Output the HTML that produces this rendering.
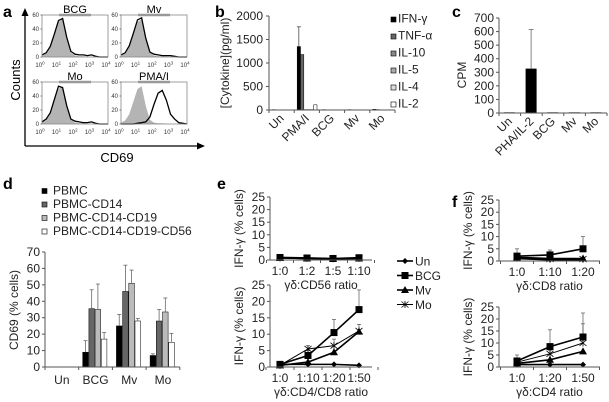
<!DOCTYPE html>
<html><head><meta charset="utf-8"><style>
html,body{margin:0;padding:0;background:#fff}
svg{display:block;font-family:"Liberation Sans",Arial,sans-serif}
</style></head><body>
<svg id="fig" width="609" height="402" viewBox="0 0 609 402">
<g font-weight="bold" font-size="16" fill="#000">
<text x="3" y="17">a</text>
<text x="215" y="17">b</text>
<text x="452" y="17">c</text>
<text x="3" y="189">d</text>
<text x="217" y="189">e</text>
<text x="452" y="207">f</text>
</g>
</svg>
<script>
const NS='http://www.w3.org/2000/svg';
const svg=document.getElementById('fig');
function mk(tag,attrs,parent,name){
  const el=document.createElementNS(NS,tag);
  for(const k in attrs) el.setAttribute(k,attrs[k]);
  
  
  (parent||svg).appendChild(el);
  return el;
}
function txt(x,y,s,size,name,extra){
  const t=mk('text',Object.assign({x:x,y:y,'font-size':size,fill:'#000'},extra||{}),svg,name);
  t.textContent=s;return t;
}

/* ---------- Panel a: histograms ---------- */
const histBins=[0,0.25,0.5,0.75,1,1.25,1.5,1.75,2,2.25,2.5,2.75,3,3.25,3.5,3.75,4];
const histIsotype=[2,5,14,32,50,54,26,6,2,1,1,0.5,0,0,0,0,0];
const histBCG=[3,6,15,33,52,55,28,8,4,3,3,2,3,1,0,0,0];
const histMv=[3,6,16,34,53,56,27,7,4,3,2,2,2,1,0,0,0];
const histMo=[3,7,16,35,54,52,26,7,4,3,2,2,3,1,0,0,0];
const histPMA=[0,0,0,0,1,2,3,10,28,44,48,34,14,7,2,1,0];
const histTitles=['BCG','Mv','Mo','PMA/I'];
const histSeries=[histBCG,histMv,histMo,histPMA];
const boxes=[[42,15],[121,15],[42,82],[121,82]];
mk('line',{x1:25,y1:146,x2:25,y2:14,stroke:'#000','stroke-width':1.3},svg,'counts-axis');
mk('polygon',{points:'25,8 21.5,16 28.5,16',fill:'#000'},svg,'counts-arrow');
mk('line',{x1:25,y1:146,x2:199,y2:146,stroke:'#000','stroke-width':1.3},svg,'cd69-axis');
mk('polygon',{points:'205,146 197,142.5 197,149.5',fill:'#000'},svg,'cd69-arrow');
txt(20,80,'Counts',13,'counts-axis-title',{transform:'rotate(-90 20 80)','text-anchor':'middle'});
txt(117,162,'CD69',13,'cd69-axis-title',{'text-anchor':'middle'});
histSeries.forEach((ser,k)=>{
  const [bx,by]=boxes[k];const W=66,H=42;
  const hx=v=>bx+v/4*W, hy=v=>by+H-v/60*H;
  let d='M'+hx(0)+','+hy(0);
  histBins.forEach((b,i)=>{d+=' L'+hx(b)+','+hy(histIsotype[i]);});
  d+=' L'+hx(4)+','+hy(0)+' Z';
  mk('path',{d:d,fill:'#b4b4b4',stroke:'none'},svg,'isotype-histogram');
  let d2='';
  histBins.forEach((b,i)=>{d2+=(i?' L':'M')+hx(b)+','+hy(ser[i]);});
  mk('path',{d:d2,fill:'none',stroke:'#000','stroke-width':1.3},svg,'cd69-histogram-'+histTitles[k].toLowerCase().replace('/',''));
  mk('rect',{x:bx,y:by,width:W,height:H,fill:'none',stroke:'#888','stroke-width':0.8},svg,'histogram-frame');
  [0,20,40,60].forEach(v=>{
    txt(bx-3,hy(v)+2,String(v),6,'hist-y-tick',{'text-anchor':'end',fill:'#333'});
    mk('line',{x1:bx-1.5,y1:hy(v),x2:bx,y2:hy(v),stroke:'#333','stroke-width':0.6},svg,'hist-y-tickmark');
  });
  [0,1,2,3,4].forEach(e=>{
    const t=txt(hx(e)-2,by+H+10,'10',6,'hist-x-tick',{'text-anchor':'middle',fill:'#333'});
    const s=document.createElementNS(NS,'tspan');s.setAttribute('dy','-2.5');s.setAttribute('font-size','4.5');s.textContent=String(e);t.appendChild(s);
  });
  const tt=txt(bx+W/2,by-2,histTitles[k],11,'histogram-title',{'text-anchor':'middle'});
  mk('line',{x1:bx+W/2-16,y1:by,x2:bx+W/2+16,y2:by,stroke:'#999','stroke-width':2.5},svg,'histogram-title-bar');
});

/* ---------- Panel b: cytokines ---------- */
const cytCats=['Un','PMA/I','BCG','Mv','Mo'];
const cytNames=['IFN-γ','TNF-α','IL-10','IL-5','IL-4','IL-2'];
const cytIFN=[8,1350,8,8,15];
const cytTNF=[5,1180,5,5,8];
const cytIL10=[5,8,5,5,5];
const cytIL5=[5,8,5,5,5];
const cytIL4=[5,8,5,5,5];
const cytIL2=[5,110,5,5,5];
const cytErrIFN=[0,1770,0,0,0];
const cytTicks=[0,500,1000,1500,2000];
const cytColors=['#000','#666','#888','#aaa','#ddd','#fff'];
(function(){
  const x0=269,x1=395,y0=110,y1=16,max=2000,gw=(x1-x0)/cytCats.length;
  const yS=v=>y0-v/max*(y0-y1);
  const series=[cytIFN,cytTNF,cytIL10,cytIL5,cytIL4,cytIL2];
  series.forEach((ser,s)=>ser.forEach((v,i)=>{
    const bx=x0+i*gw+3+s*3.3;
    mk('rect',{x:bx,y:yS(v),width:3.3,height:y0-yS(v),fill:cytColors[s],stroke:'#000','stroke-width':0.5},svg,'bar-'+cytNames[s]+'-'+cytCats[i]);
  }));
  cytErrIFN.forEach((e,i)=>{ if(e>0){const cx=x0+i*gw+3+1.65;
    mk('line',{x1:cx,y1:yS(cytIFN[i]),x2:cx,y2:yS(e),stroke:'#333','stroke-width':0.7},svg,'error-bar-ifn');
    mk('line',{x1:cx-2,y1:yS(e),x2:cx+2,y2:yS(e),stroke:'#333','stroke-width':0.7},svg,'error-cap-ifn');}});
  mk('line',{x1:x0,y1:y1,x2:x0,y2:y0,stroke:'#555'},svg,'cytokine-y-axis');
  mk('line',{x1:x0,y1:y0,x2:x1,y2:y0,stroke:'#555'},svg,'cytokine-x-axis');
  cytTicks.forEach(v=>{
    mk('line',{x1:x0-3,y1:yS(v),x2:x0,y2:yS(v),stroke:'#555'},svg,'cytokine-y-tickmark');
    txt(x0-6,yS(v)+4,String(v),12,'cytokine-y-tick',{'text-anchor':'end',fill:'#222'});
  });
  for(let i=0;i<=cytCats.length;i++) mk('line',{x1:x0+i*gw,y1:y0,x2:x0+i*gw,y2:y0+3,stroke:'#555'},svg,'cytokine-x-tickmark');
  cytCats.forEach((c,i)=>{const cx=x0+(i+0.5)*gw+3,cy=y0+9;
    txt(cx,cy,c,12,'cytokine-x-label',{'text-anchor':'end',transform:'rotate(-45 '+cx+' '+cy+')',fill:'#222'});});
  txt(229,63,'[Cytokine](pg/ml)',12,'cytokine-y-title',{'text-anchor':'middle',transform:'rotate(-90 229 63)',fill:'#222'});
  cytNames.forEach((n,s)=>{const ly=21+s*17;
    mk('rect',{x:391,y:ly-4,width:5,height:5,fill:cytColors[s],stroke:'#000','stroke-width':0.6},svg,'legend-swatch-'+n);
    txt(398,ly+1.5,n,12,'legend-entry-'+n,{fill:'#222'});});
})();

/* ---------- Panel c: CPM ---------- */
const cpmCats=['Un','PHA/IL-2','BCG','Mv','Mo'];
const cpmValues=[5,327,5,5,5];
const cpmErrors=[0,615,0,0,0];
const cpmTicks=[0,100,200,300,400,500,600,700];
(function(){
  const x0=499,x1=607,y0=113,y1=18,max=700,gw=(x1-x0)/cpmCats.length;
  const yS=v=>y0-v/max*(y0-y1);
  cpmValues.forEach((v,i)=>{const bx=x0+i*gw+5;
    mk('rect',{x:bx,y:yS(v),width:11,height:y0-yS(v),fill:'#000'},svg,'cpm-bar-'+cpmCats[i]);
    if(cpmErrors[i]>0){const cx=bx+5.5;
      mk('line',{x1:cx,y1:yS(v),x2:cx,y2:yS(cpmErrors[i]),stroke:'#555','stroke-width':0.7},svg,'cpm-error-bar');
      mk('line',{x1:cx-2.5,y1:yS(cpmErrors[i]),x2:cx+2.5,y2:yS(cpmErrors[i]),stroke:'#555','stroke-width':0.7},svg,'cpm-error-cap');}
  });
  mk('line',{x1:x0,y1:y1,x2:x0,y2:y0,stroke:'#555'},svg,'cpm-y-axis');
  mk('line',{x1:x0,y1:y0,x2:x1,y2:y0,stroke:'#555'},svg,'cpm-x-axis');
  cpmTicks.forEach(v=>{
    mk('line',{x1:x0-3,y1:yS(v),x2:x0,y2:yS(v),stroke:'#555'},svg,'cpm-y-tickmark');
    txt(x0-5,yS(v)+4,String(v),12,'cpm-y-tick',{'text-anchor':'end',fill:'#222'});
  });
  for(let i=0;i<=cpmCats.length;i++) mk('line',{x1:x0+i*gw,y1:y0,x2:x0+i*gw,y2:y0+3,stroke:'#555'},svg,'cpm-x-tickmark');
  cpmCats.forEach((c,i)=>{const cx=x0+(i+0.5)*gw+3,cy=y0+9;
    txt(cx,cy,c,12,'cpm-x-label',{'text-anchor':'end',transform:'rotate(-45 '+cx+' '+cy+')',fill:'#222'});});
  txt(466,75,'CPM',12,'cpm-y-title',{'text-anchor':'middle',transform:'rotate(-90 466 75)',fill:'#222'});
})();

/* ---------- Panel d: CD69 ---------- */
const cdCats=['Un','BCG','Mv','Mo'];
const cdSeriesNames=['PBMC','PBMC-CD14','PBMC-CD14-CD19','PBMC-CD14-CD19-CD56'];
const cdPBMC=[0,9,25,7];
const cdCD14=[0,35.5,46,28];
const cdCD19=[0,35,51,33.5];
const cdCD56=[0,17,28,15];
const cdErrPBMC=[0,16,32,8];
const cdErrCD14=[0,47,62,35];
const cdErrCD19=[0,50.5,59,42];
const cdErrCD56=[0,21,29.5,20.5];
const cdTicks=[0,10,20,30,40,50,60,70];
const cdColors=['#000','#666','#bbb','#fff'];
(function(){
  const x0=45,y0=367,y1=252,max=70,gw=33.7,x1=x0+gw*4;
  const yS=v=>y0-v/max*(y0-y1);
  const vals=[cdPBMC,cdCD14,cdCD19,cdCD56],errs=[cdErrPBMC,cdErrCD14,cdErrCD19,cdErrCD56];
  vals.forEach((ser,s)=>ser.forEach((v,i)=>{
    if(v<=0) return;
    const bx=x0+i*gw+4+s*6.2;
    mk('rect',{x:bx,y:yS(v),width:5.6,height:y0-yS(v),fill:cdColors[s],stroke:'#000','stroke-width':0.5},svg,'cd69-bar-'+cdSeriesNames[s]+'-'+cdCats[i]);
    const e=errs[s][i],cx=bx+2.8;
    mk('line',{x1:cx,y1:yS(v),x2:cx,y2:yS(e),stroke:'#555','stroke-width':0.7},svg,'cd69-error-bar');
    mk('line',{x1:cx-2,y1:yS(e),x2:cx+2,y2:yS(e),stroke:'#555','stroke-width':0.7},svg,'cd69-error-cap');
  }));
  mk('line',{x1:x0,y1:y1,x2:x0,y2:y0,stroke:'#555'},svg,'cd69-y-axis');
  mk('line',{x1:x0,y1:y0,x2:x1,y2:y0,stroke:'#555'},svg,'cd69-x-axis');
  cdTicks.forEach(v=>{
    mk('line',{x1:x0-3,y1:yS(v),x2:x0,y2:yS(v),stroke:'#555'},svg,'cd69-y-tickmark');
    txt(x0-5,yS(v)+4,String(v),12,'cd69-y-tick',{'text-anchor':'end',fill:'#222'});
  });
  for(let i=0;i<=cdCats.length;i++) mk('line',{x1:x0+i*gw,y1:y0,x2:x0+i*gw,y2:y0+3,stroke:'#555'},svg,'cd69-x-tickmark');
  cdCats.forEach((c,i)=>txt(x0+(i+0.5)*gw,y0+17,c,12,'cd69-x-label',{'text-anchor':'middle',fill:'#222'}));
  txt(18,310,'CD69 (% cells)',12,'cd69-y-title',{'text-anchor':'middle',transform:'rotate(-90 18 310)',fill:'#222'});
  cdSeriesNames.forEach((n,s)=>{const ly=193+s*13.5;
    mk('rect',{x:42,y:ly-4.5,width:5,height:5,fill:cdColors[s],stroke:'#000','stroke-width':0.6},svg,'legend-swatch-'+n);
    txt(53,ly+1.5,n,12,'legend-entry-'+n,{fill:'#222'});});
})();

/* ---------- Panels e, f: line charts ---------- */
const lineSeriesNames=['Un','BCG','Mv','Mo'];
const eTopCats=['1:0','1:2','1:5','1:10'];
const eTopUn=[0.8,0.6,0.5,0.6];
const eTopBCG=[1,0.8,0.6,0.9];
const eTopMv=[0.8,0.6,0.5,0.6];
const eTopMo=[0.8,0.7,0.5,0.7];
const eBotCats=['1:0','1:10','1:20','1:50'];
const eBotUn=[0.8,0.8,0.8,0.5];
const eBotBCG=[0.8,3.5,10.5,17.5];
const eBotMv=[0.5,1.5,4.5,10.8];
const eBotMo=[0.5,5.5,6.5,11];
const eBotErrBCG=[0,5,14.5,23.5];
const eBotErrMo=[0,6.5,8.5,13];
const fTopCats=['1:0','1:10','1:20'];
const fTopUn=[1,0.5,0.5];
const fTopBCG=[2,2.5,5];
const fTopMv=[1.5,1,1];
const fTopMo=[1.2,0.8,0.8];
const fTopErrBCG=[5,4.5,10];
const fBotCats=['1:0','1:20','1:50'];
const fBotUn=[1,1,1];
const fBotBCG=[2.5,8.5,12.5];
const fBotMv=[1.5,3,6.5];
const fBotMo=[2,5.5,10];
const fBotErrBCG=[5,15.5,22.5];
const fBotErrMo=[2,7,18];
const lineTicks=[0,5,10,15,20,25];

function marker(type,x,y,name){
  if(type==='Un') mk('polygon',{points:`${x},${y-3} ${x+3},${y} ${x},${y+3} ${x-3},${y}`,fill:'#000'},svg,name);
  else if(type==='BCG') mk('rect',{x:x-3.5,y:y-3.5,width:7,height:7,fill:'#000'},svg,name);
  else if(type==='Mv') mk('polygon',{points:`${x},${y-4} ${x+4},${y+3} ${x-4},${y+3}`,fill:'#000'},svg,name);
  else {mk('path',{d:`M${x-3.5},${y-3} L${x+3.5},${y+3} M${x-3.5},${y+3} L${x+3.5},${y-3} M${x},${y-3.5} L${x},${y+3.5}`,stroke:'#000','stroke-width':0.8,fill:'none'},svg,name);}
}
function lineChart(cfg){
  const {x0,x1,y0,y1,xs,cats,series,errs,xtitle,ytitleX,id}=cfg;
  const yS=v=>y0-v/25*(y0-y1);
  errs.forEach(([si,arr])=>arr.forEach((e,i)=>{
    const v=series[si][i];if(e<=v) return;
    mk('line',{x1:xs[i],y1:yS(v),x2:xs[i],y2:yS(e),stroke:'#555','stroke-width':0.7},svg,id+'-error-bar');
    mk('line',{x1:xs[i]-2,y1:yS(e),x2:xs[i]+2,y2:yS(e),stroke:'#555','stroke-width':0.7},svg,id+'-error-cap');
  }));
  series.forEach((ser,s)=>{
    const pts=ser.map((v,i)=>xs[i]+','+yS(v)).join(' ');
    mk('polyline',{points:pts,fill:'none',stroke:'#000','stroke-width':s===3?1:1.6},svg,id+'-line-'+lineSeriesNames[s]);
    ser.forEach((v,i)=>marker(lineSeriesNames[s],xs[i],yS(v),id+'-point-'+lineSeriesNames[s]));
  });
  mk('line',{x1:x0,y1:y1,x2:x0,y2:y0,stroke:'#555'},svg,id+'-y-axis');
  mk('line',{x1:x0,y1:y0,x2:x1,y2:y0,stroke:'#555'},svg,id+'-x-axis');
  lineTicks.forEach(v=>{
    mk('line',{x1:x0-3,y1:yS(v),x2:x0,y2:yS(v),stroke:'#555'},svg,id+'-y-tickmark');
    txt(x0-5,yS(v)+4,String(v),12,id+'-y-tick',{'text-anchor':'end',fill:'#222'});
  });
  const step=(xs[1]-xs[0]);
  for(let i=0;i<=cats.length;i++) mk('line',{x1:xs[0]-step/2+i*step,y1:y0,x2:xs[0]-step/2+i*step,y2:y0+3,stroke:'#555'},svg,id+'-x-tickmark');
  cats.forEach((c,i)=>txt(xs[i],y0+15,c,12,id+'-x-label',{'text-anchor':'middle',fill:'#222'}));
  txt((x0+x1)/2,y0+29,xtitle,12,id+'-x-title',{'text-anchor':'middle',fill:'#222'});
  const cy=(y0+y1)/2;
  txt(ytitleX,cy,'IFN-γ (% cells)',12,id+'-y-title',{'text-anchor':'middle',transform:`rotate(-90 ${ytitleX} ${cy})`,fill:'#222'});
}
lineChart({id:'e-top',x0:270,x1:372,y0:260,y1:197,xs:[280,307,333,359],cats:eTopCats,series:[eTopUn,eTopBCG,eTopMv,eTopMo],errs:[],xtitle:'γδ:CD56 ratio',ytitleX:243});
lineChart({id:'e-bottom',x0:270,x1:372,y0:367,y1:285,xs:[280,308,334,359],cats:eBotCats,series:[eBotUn,eBotBCG,eBotMv,eBotMo],errs:[[1,eBotErrBCG],[3,eBotErrMo]],xtitle:'γδ:CD4/CD8 ratio',ytitleX:243});
lineChart({id:'f-top',x0:499,x1:600,y0:261,y1:200,xs:[517,550,583],cats:fTopCats,series:[fTopUn,fTopBCG,fTopMv,fTopMo],errs:[[1,fTopErrBCG]],xtitle:'γδ:CD8 ratio',ytitleX:472});
lineChart({id:'f-bottom',x0:499,x1:600,y0:367,y1:307,xs:[517,550,583],cats:fBotCats,series:[fBotUn,fBotBCG,fBotMv,fBotMo],errs:[[1,fBotErrBCG],[3,fBotErrMo]],xtitle:'γδ:CD4 ratio',ytitleX:472});
lineSeriesNames.forEach((n,s)=>{const ly=261+s*14.5;
  mk('line',{x1:397,y1:ly,x2:413,y2:ly,stroke:'#000','stroke-width':s===3?1:1.6},svg,'legend-line-'+n);
  marker(n,405,ly,'legend-marker-'+n);
  txt(415,ly+4.5,n,12,'legend-entry-'+n,{fill:'#222'});
});
</script>
</body></html>
